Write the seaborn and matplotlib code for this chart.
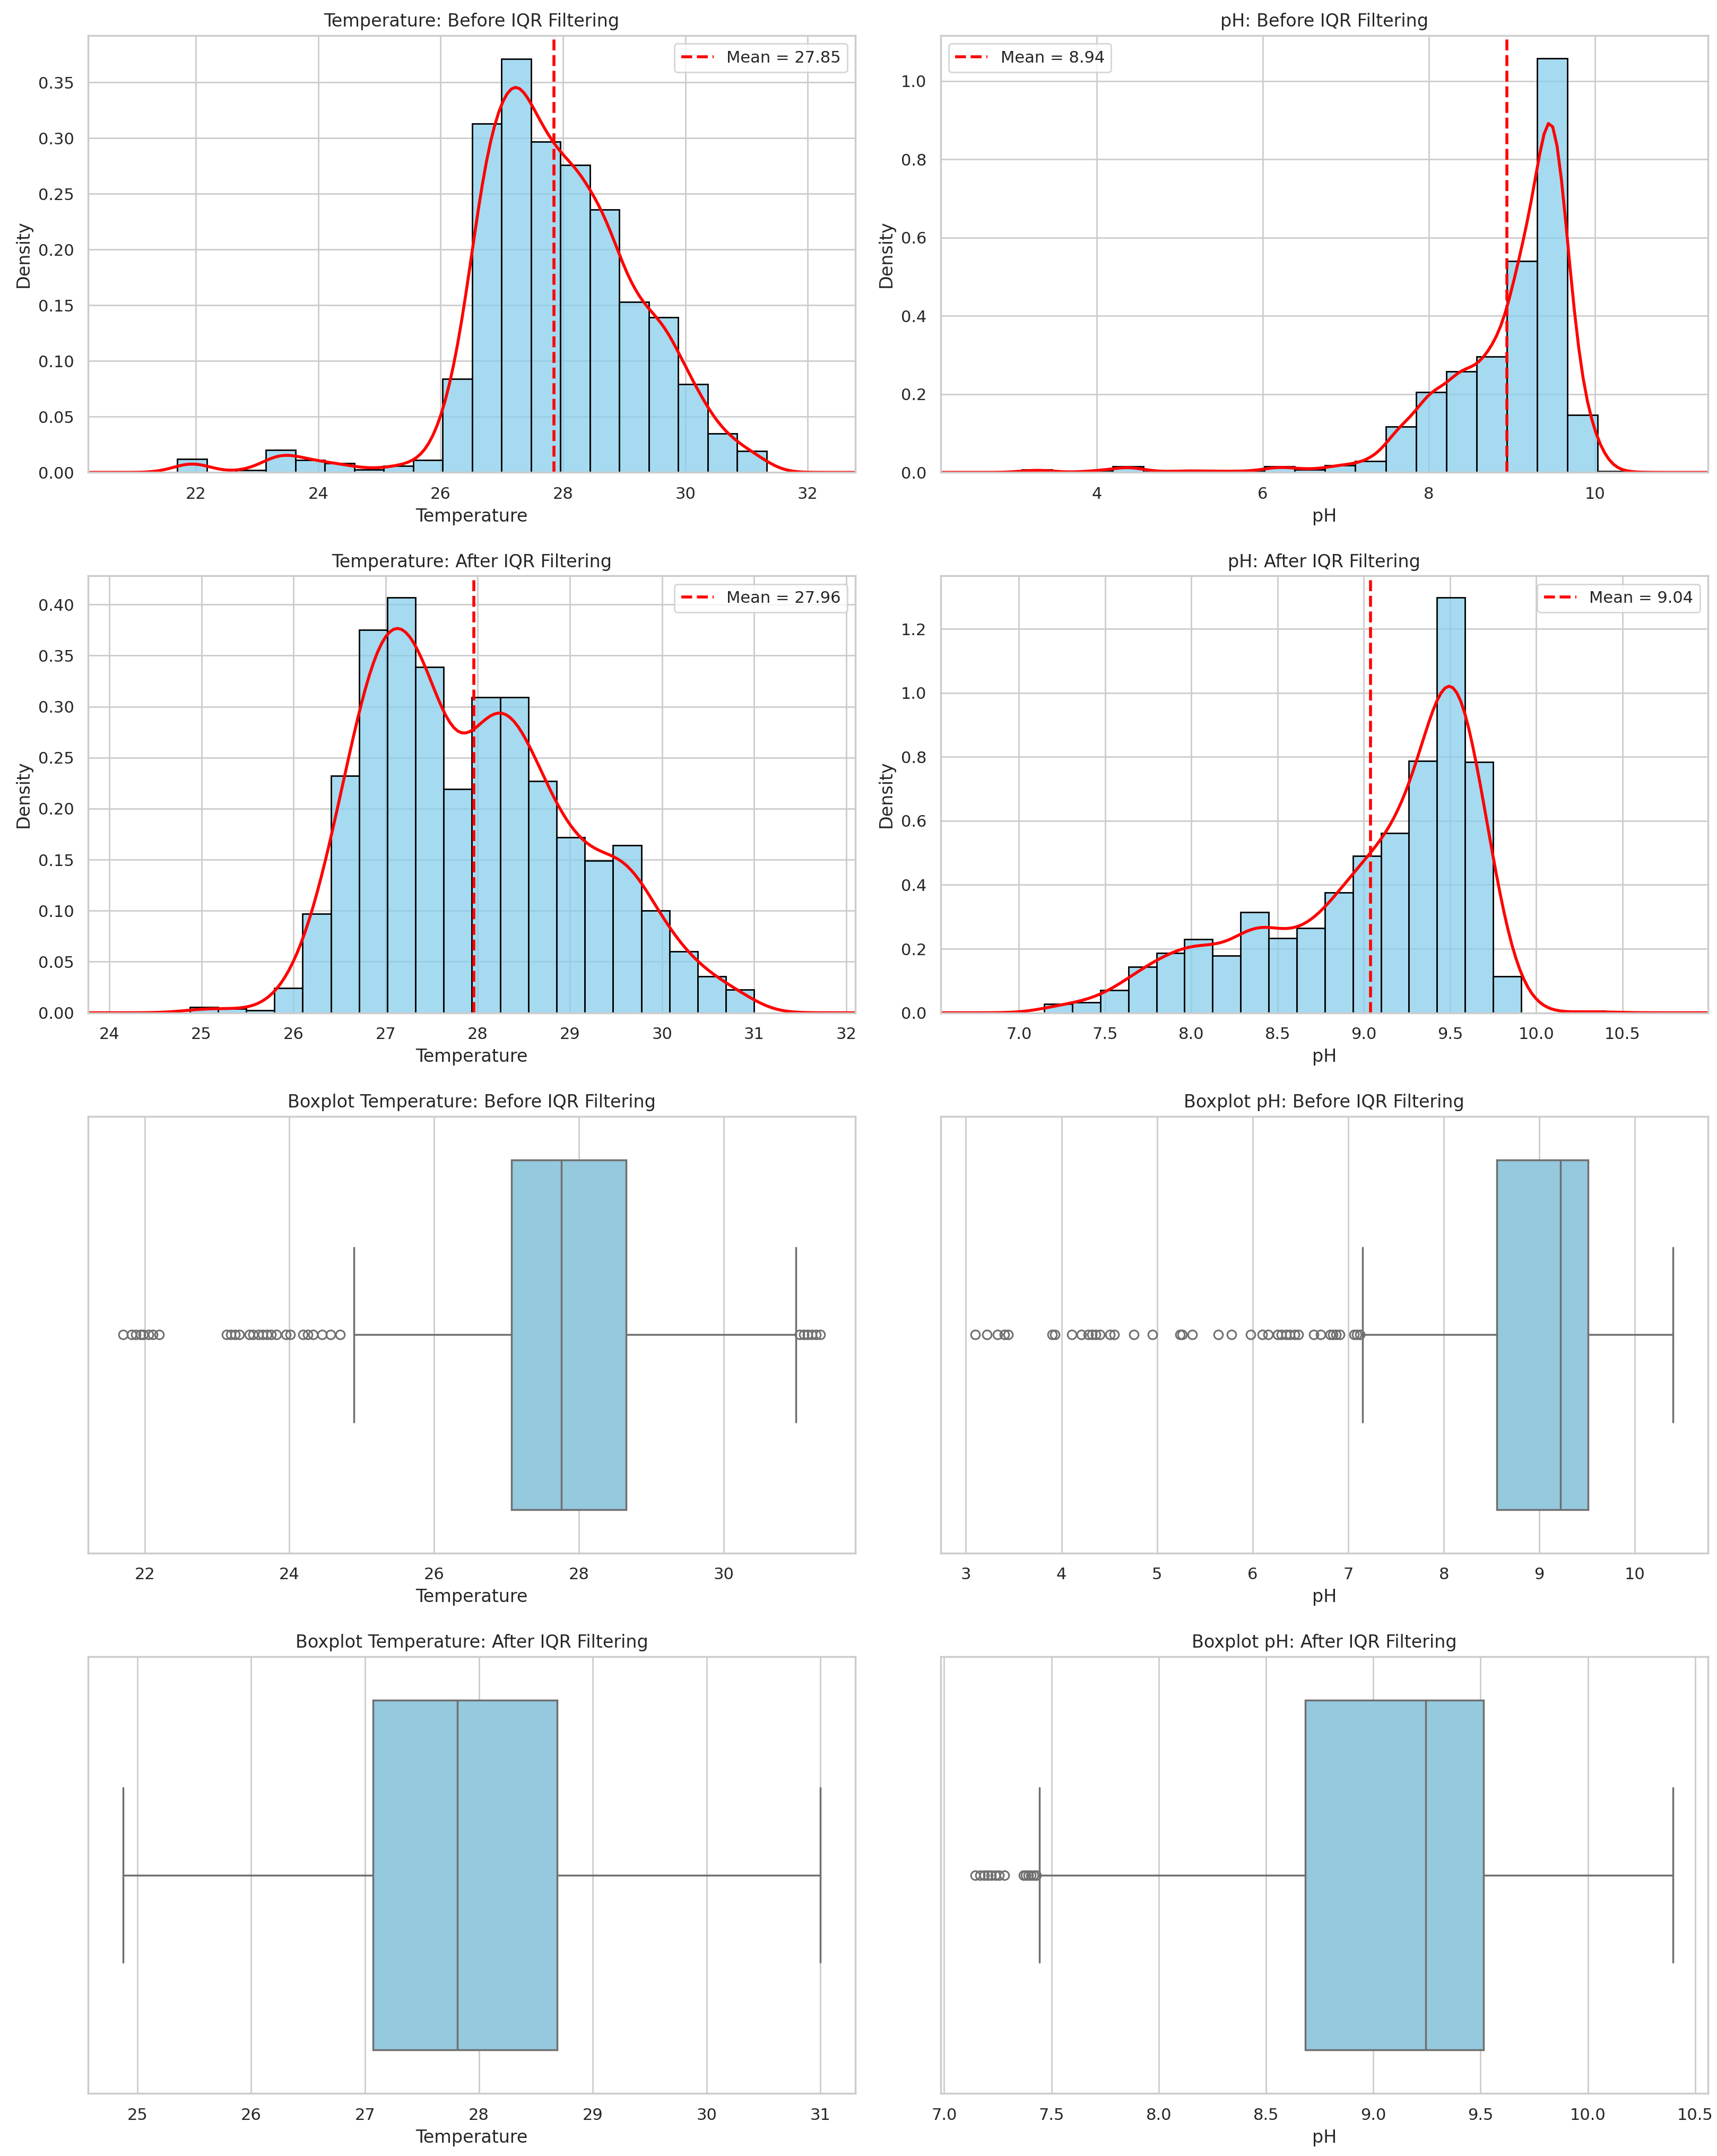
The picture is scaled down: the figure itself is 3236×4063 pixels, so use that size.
import numpy as np
import matplotlib
matplotlib.use("Agg")
import matplotlib.pyplot as plt
import seaborn as sns

sns.set_theme(style="whitegrid")

# histogram densities (20 bins each)
temp_before_range = (21.70, 31.33)
temp_before_density = [0.012, 0.0, 0.002, 0.020, 0.011, 0.008, 0.0025, 0.006, 0.011, 0.084,
                       0.313, 0.371, 0.297, 0.276, 0.236, 0.153, 0.139, 0.079, 0.035, 0.019]
temp_before_mean = 27.85

ph_before_range = (3.10, 10.40)
ph_before_density = [0.007, 0.0, 0.0043, 0.015, 0.0014, 0.0043, 0.0029, 0.0029, 0.015, 0.007,
                     0.018, 0.029, 0.117, 0.205, 0.258, 0.296, 0.540, 1.058, 0.147, 0.003]
ph_before_mean = 8.94

temp_after_range = (24.874, 31.00)
temp_after_density = [0.0054, 0.0037, 0.0024, 0.024, 0.097, 0.232, 0.375, 0.407, 0.339, 0.219,
                      0.309, 0.309, 0.227, 0.172, 0.149, 0.164, 0.100, 0.060, 0.0355, 0.0226]
temp_after_mean = 27.96

ph_after_range = (7.147, 10.40)
ph_after_density = [0.027, 0.033, 0.071, 0.144, 0.187, 0.230, 0.179, 0.315, 0.233, 0.264,
                    0.376, 0.491, 0.562, 0.787, 1.299, 0.784, 0.114, 0.0, 0.0, 0.006]
ph_after_mean = 9.04

# boxplot summaries
temp_before_box = dict(q1=27.07, med=27.76, q3=28.65, whislo=24.89, whishi=31.00,
                       fliers=[21.70, 21.82, 21.88, 21.94, 21.98, 22.05, 22.11, 22.20,
                               23.13, 23.19, 23.25, 23.31, 23.45, 23.50, 23.57, 23.63, 23.69,
                               23.75, 23.82, 23.95, 24.01, 24.19, 24.25, 24.33, 24.45, 24.57,
                               24.70, 31.05, 31.11, 31.16, 31.22, 31.28, 31.34])
ph_before_box = dict(q1=8.556, med=9.218, q3=9.511, whislo=7.151, whishi=10.398,
                     fliers=[3.10, 3.22, 3.33, 3.40, 3.44, 3.90, 3.93, 4.11, 4.21, 4.28, 4.32,
                             4.36, 4.40, 4.51, 4.55, 4.76, 4.95, 5.24, 5.26, 5.37, 5.64, 5.78,
                             5.98, 6.10, 6.16, 6.26, 6.30, 6.35, 6.39, 6.44, 6.48, 6.64, 6.71,
                             6.81, 6.84, 6.87, 6.91, 7.06, 7.09, 7.12])
temp_after_box = dict(q1=27.07, med=27.81, q3=28.685, whislo=24.874, whishi=31.00, fliers=[])
ph_after_box = dict(q1=8.682, med=9.244, q3=9.513, whislo=7.444, whishi=10.397,
                    fliers=[7.146, 7.167, 7.187, 7.205, 7.218, 7.238, 7.256, 7.280,
                            7.369, 7.380, 7.392, 7.404, 7.416, 7.430])


def hist_panel(ax, rng, dens, mean, xlabel, title, bw, cut, loc, xlim, ylim):
    n = len(dens)
    width = (rng[1] - rng[0]) / n
    centers = rng[0] + width * (np.arange(n) + 0.5)
    sns.histplot(x=centers, weights=dens, bins=n, binrange=rng, color="skyblue",
                 edgecolor="black", alpha=0.75, linewidth=1, ax=ax)
    sns.kdeplot(x=centers, weights=dens, bw_method=bw, cut=cut, color="red",
                linewidth=2, ax=ax)
    ax.axvline(mean, color="red", linestyle="--", linewidth=2, label=f"Mean = {mean:.2f}")
    ax.set_xlim(*xlim)
    ax.set_ylim(*ylim)
    ax.set_title(title)
    ax.set_xlabel(xlabel)
    ax.set_ylabel("Density")
    ax.legend(loc=loc)


def box_panel(ax, stats, xlabel, title):
    fill = sns.desaturate("skyblue", 0.75)
    line = "#6f6f6f"
    lw = 1.25
    ax.bxp([stats], positions=[0], widths=0.8, orientation="horizontal",
           patch_artist=True, manage_ticks=False, capwidths=0.4,
           boxprops=dict(facecolor=fill, edgecolor=line, linewidth=lw),
           whiskerprops=dict(color=line, linewidth=lw),
           capprops=dict(color=line, linewidth=lw),
           medianprops=dict(color=line, linewidth=lw),
           flierprops=dict(marker="o", markerfacecolor="none", markeredgecolor=line,
                           markersize=6, markeredgewidth=1.1, linestyle="none"))
    ax.set_ylim(0.5, -0.5)
    ax.set_yticks([])
    ax.set_title(title)
    ax.set_xlabel(xlabel)


fig, axes = plt.subplots(4, 2, figsize=(3237 / 200, 4063 / 200))
fig.subplots_adjust(left=0.0513, right=0.9944, top=0.9835, bottom=0.029,
                    wspace=0.111, hspace=0.237)

hist_panel(axes[0, 0], temp_before_range, temp_before_density, temp_before_mean,
           "Temperature", "Temperature: Before IQR Filtering", 0.215, 3.5, "upper right",
           (20.24, 32.78), (0, 0.392))
hist_panel(axes[0, 1], ph_before_range, ph_before_density, ph_before_mean,
           "pH", "pH: Before IQR Filtering", 0.2, 4.0, "upper left",
           (2.12, 11.36), (0, 1.116))
hist_panel(axes[1, 0], temp_after_range, temp_after_density, temp_after_mean,
           "Temperature", "Temperature: After IQR Filtering", 0.22, 3.6, "upper right",
           (23.77, 32.10), (0, 0.428))
hist_panel(axes[1, 1], ph_after_range, ph_after_density, ph_after_mean,
           "pH", "pH: After IQR Filtering", 0.21, 3.6, "upper right",
           (6.546, 10.995), (0, 1.366))

box_panel(axes[2, 0], temp_before_box, "Temperature", "Boxplot Temperature: Before IQR Filtering")
box_panel(axes[2, 1], ph_before_box, "pH", "Boxplot pH: Before IQR Filtering")
box_panel(axes[3, 0], temp_after_box, "Temperature", "Boxplot Temperature: After IQR Filtering")
box_panel(axes[3, 1], ph_after_box, "pH", "Boxplot pH: After IQR Filtering")

plt.savefig("out.png", dpi=200)
